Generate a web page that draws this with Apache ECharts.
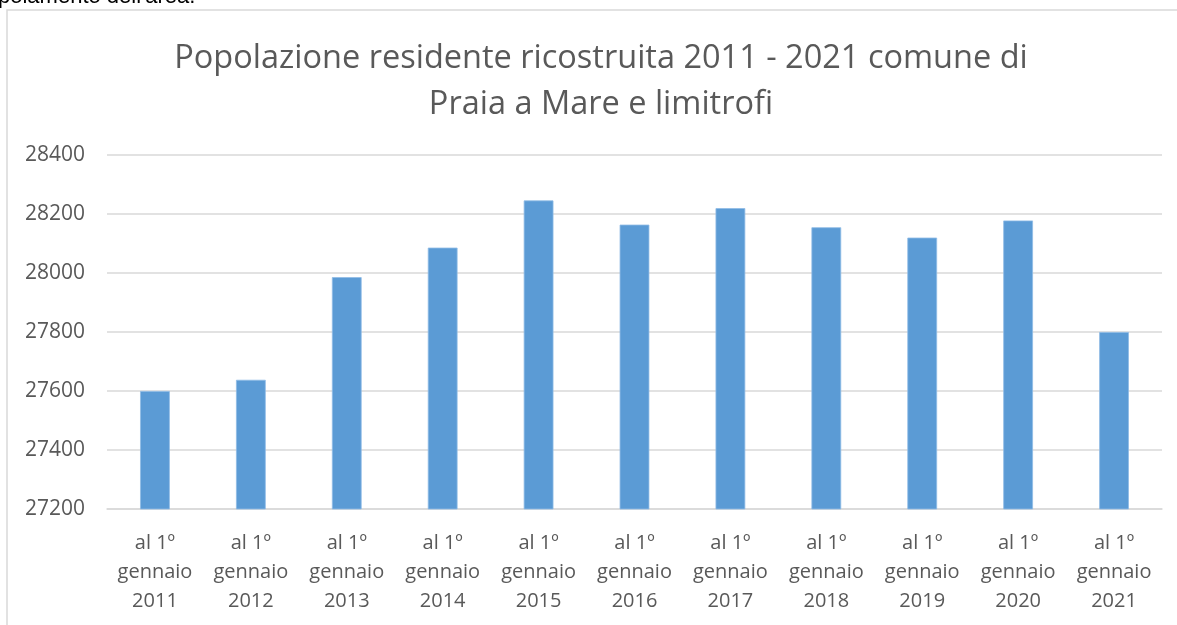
<!DOCTYPE html>
<html>
<head>
<meta charset="utf-8">
<title>Popolazione residente ricostruita 2011 - 2021</title>
<script src="https://cdn.jsdelivr.net/npm/echarts@6/dist/echarts.min.js"></script>
<style>
  html, body { margin: 0; padding: 0; background: #fff; }
  #chart { width: 1177px; height: 625px; }
</style>
</head>
<body>
<div id="chart"></div>
<script>
const years = ["2011", "2012", "2013", "2014", "2015", "2016", "2017", "2018", "2019", "2020", "2021"];
const categories = years.map((y) => "al 1º\ngennaio\n" + y);
const population = [27600, 27638, 27986, 28086, 28246, 28164, 28220, 28155, 28120, 28178, 27800];
const yTicks = { min: 27200, max: 28400, step: 200 };

const chart = echarts.init(document.getElementById("chart"));

// grey text used everywhere in the Excel-style chart
const textGrey = "#595959";
const font = "'Open Sans', sans-serif";

chart.setOption({
  animation: false,
  graphic: [
    {
      // tail of the paragraph above the chart, cut off by the screenshot
      type: "text",
      left: -2,
      top: -14,
      silent: true,
      style: {
        text: "polamento dell'area.",
        fill: "#000",
        font: "22px 'Liberation Sans', Arial, sans-serif",
      },
    },
    {
      type: "rect",
      silent: true,
      shape: { x: 7, y: 10, width: 1300, height: 800 },
      style: { fill: "none", stroke: "#d9d9d9", lineWidth: 1.5 },
      z: -1,
    },
  ],
  title: {
    text: "Popolazione residente ricostruita 2011 - 2021 comune di\nPraia a Mare e limitrofi",
    left: 596,
    top: 31,
    textAlign: "center",
    textStyle: {
      color: textGrey,
      fontFamily: font,
      fontSize: 32.5,
      fontWeight: "normal",
      lineHeight: 46,
    },
  },
  grid: {
    left: 107,
    right: 15,
    top: 155,
    bottom: 116,
  },
  xAxis: {
    type: "category",
    data: categories,
    axisLine: { lineStyle: { color: "#d9d9d9", width: 1.5 } },
    axisTick: { show: false },
    axisLabel: {
      interval: 0,
      color: textGrey,
      fontFamily: font,
      fontSize: 20,
      lineHeight: 29,
      margin: 20,
    },
  },
  yAxis: {
    type: "value",
    min: yTicks.min,
    max: yTicks.max,
    interval: yTicks.step,
    axisLine: { show: false },
    axisTick: { show: false },
    splitLine: { lineStyle: { color: "#d9d9d9", width: 1.5 } },
    axisLabel: {
      color: textGrey,
      fontFamily: font,
      fontSize: 21,
      margin: 22,
      formatter: (v) => String(v),
    },
  },
  series: [
    {
      type: "bar",
      data: population,
      barCategoryGap: "69%",
      itemStyle: {
        color: "#5b9bd5",
        borderColor: "#8fbbe6",
        borderWidth: 0.8,
      },
    },
  ],
});
</script>
</body>
</html>
